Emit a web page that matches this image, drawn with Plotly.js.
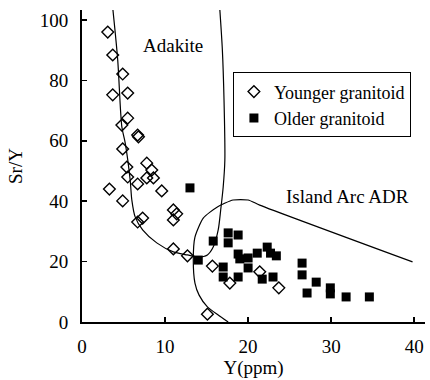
<!DOCTYPE html>
<html>
<head>
<meta charset="utf-8">
<script src="https://cdn.plot.ly/plotly-3.0.1.min.js"></script>
<style>html,body{margin:0;padding:0;background:#fff;}#chart{width:430px;height:380px;}</style>
</head>
<body>
<div id="chart"></div>
<script>
// Younger granitoid (open diamonds)
const youngerY = [3.1,3.7,4.9,3.7,5.5,5.5,4.8,6.7,6.8,4.9,5.4,5.5,7.8,8.4,8.6,7.8,6.7,9.6,3.3,4.9,11.0,11.4,11.0,6.7,7.3,11.0,12.7,15.7,17.8,21.4,23.7,15.1];
const youngerSrY = [96.0,88.4,82.1,75.2,75.8,67.5,65.2,61.9,61.3,57.3,51.3,48.0,52.6,50.3,47.7,47.7,45.7,43.4,44.0,40.1,37.1,35.8,33.8,33.1,34.4,24.2,21.9,18.5,12.9,16.6,11.3,2.6];
// Older granitoid (filled squares)
const olderY = [13.0,15.8,14.0,17.6,18.8,17.6,18.8,19.0,20.0,17.0,17.0,18.8,20.0,21.1,22.3,22.7,23.4,21.7,23.0,26.5,26.5,28.2,27.1,29.9,29.9,31.8,34.6];
const olderSrY = [44.4,26.8,20.5,29.5,28.8,26.2,22.5,20.9,21.2,18.2,14.9,14.9,17.9,22.8,24.8,22.8,21.9,14.2,14.9,19.5,15.6,13.2,9.6,11.3,9.3,8.3,8.3];
// Adakite field boundary
const adakiteY = [3.7,4.3,4.8,5.2,5.8,6.0,6.4,7.3,9.0,11.0,12.7,14.0,15.1,15.8,16.4,16.7,17.0,17.2,17.1,16.9,16.6];
const adakiteSrY = [104,86.8,64.6,59.3,47.0,40.4,34.8,30.5,26.2,23.2,22.2,21.5,22.2,24.8,30.5,37.1,44.7,53.6,73.5,90.1,103.3];
// Island Arc ADR field boundary
const adrY = [17.6,16.4,15.1,14.1,13.6,13.4,13.6,14.6,16.3,18.2,20.0,21.4,39.8];
const adrSrY = [0,2.3,5.0,8.9,12.9,20.5,28.1,34.4,38.1,40.4,40.4,38.7,19.9];
const xTicks = [0,10,20,30,40];
const yTicks = [0,20,40,60,80,100];

const FONT = "'Liberation Serif', 'DejaVu Serif', serif";

const traces = [
  {x: adakiteY, y: adakiteSrY, mode:'lines', line:{color:'#000', width:1.2, shape:'spline', smoothing:0.8}, showlegend:false, hoverinfo:'skip'},
  {x: adrY, y: adrSrY, mode:'lines', line:{color:'#000', width:1.2, shape:'spline', smoothing:0.6}, showlegend:false, hoverinfo:'skip'},
  {x: youngerY, y: youngerSrY, mode:'markers', name:'Younger granitoid',
   marker:{symbol:'diamond-open', size:9, color:'#000', line:{width:1.4, color:'#000'}}},
  {x: olderY, y: olderSrY, mode:'markers', name:'Older granitoid',
   marker:{symbol:'square', size:9, color:'#000', line:{width:0}}}
];

const layout = {
  width:430, height:380,
  margin:{l:82, r:5, t:10, b:58},
  paper_bgcolor:'#fff', plot_bgcolor:'#fff',
  font:{family:FONT, size:19, color:'#000'},
  xaxis:{range:[0,41.3], tickvals:xTicks, ticktext:xTicks.map(String), ticks:'inside', ticklen:5, tickwidth:1.5, tickcolor:'#000',
    showline:true, linewidth:2, linecolor:'#000', showgrid:false, zeroline:false, ticklabelstandoff:6,
    title:{text:'Y(ppm)', font:{family:FONT, size:19}, standoff:4}},
  yaxis:{range:[0,103.3], tickvals:yTicks, ticktext:yTicks.map(String), ticks:'inside', ticklen:5, tickwidth:1.5, tickcolor:'#000',
    showline:true, linewidth:2, linecolor:'#000', showgrid:false, zeroline:false, ticklabelstandoff:8,
    title:{text:'Sr/Y', font:{family:FONT, size:19}, standoff:12}},
  showlegend:true,
  legend:{x:0.44, y:0.80, xanchor:'left', yanchor:'top', bgcolor:'#fff', bordercolor:'#000', borderwidth:1,
    font:{family:FONT, size:18}, itemwidth:30, tracegroupgap:0},
  annotations:[
    {x:11.0, y:91.7, xref:'x', yref:'y', text:'Adakite', showarrow:false, font:{family:FONT, size:19}},
    {x:32.0, y:41.7, xref:'x', yref:'y', text:'Island Arc ADR', showarrow:false, font:{family:FONT, size:19}}
  ]
};

Plotly.newPlot('chart', traces, layout, {staticPlot:true, displayModeBar:false});
</script>
</body>
</html>
